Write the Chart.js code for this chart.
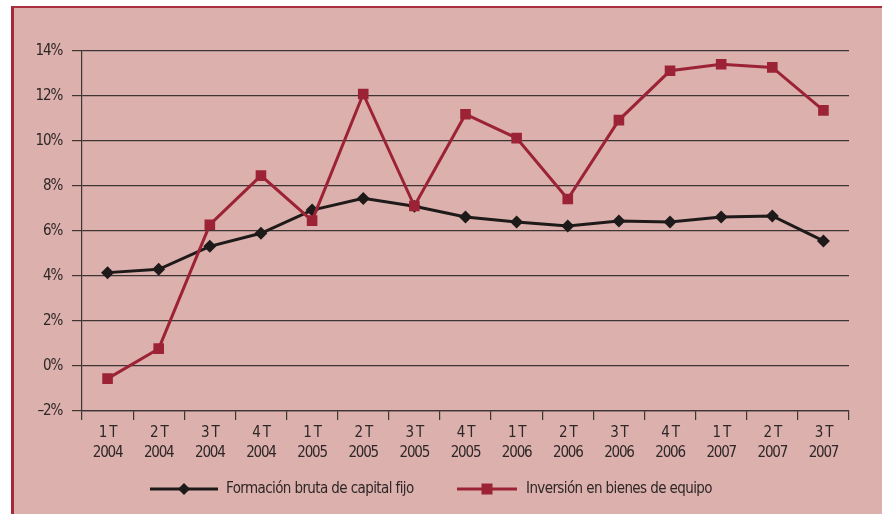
<!DOCTYPE html>
<html>
<head>
<meta charset="utf-8">
<script src="https://cdn.jsdelivr.net/npm/chart.js@4/dist/chart.umd.min.js"></script>
<style>
  html, body { margin: 0; padding: 0; background: #ffffff; width: 882px; height: 514px; overflow: hidden; }
  #box { position: absolute; left: 11px; top: 6px; width: 900px; height: 540px;
         background: #dcb0ac; border-left: 3px solid #a2283a; border-top: 2px solid #a8303f; }
  #c { position: absolute; left: 0; top: 0; }
</style>
</head>
<body>
<div id="box"></div>
<canvas id="c" width="882" height="514"></canvas>
<script>
const quarters = ["1 T","2 T","3 T","4 T","1 T","2 T","3 T","4 T","1 T","2 T","3 T","4 T","1 T","2 T","3 T"];
const years = ["2004","2004","2004","2004","2005","2005","2005","2005","2006","2006","2006","2006","2007","2007","2007"];
const categories = quarters.map((q, i) => [q, years[i]]);

const seriesNames = ["Formación bruta de capital fijo", "Inversión en bienes de equipo"];
const formacionBruta = [4.15, 4.3, 5.32, 5.9, 6.93, 7.45, 7.1, 6.62, 6.4, 6.22, 6.44, 6.4, 6.62, 6.67, 5.56];
const inversionEquipo = [-0.56, 0.77, 6.28, 8.46, 6.46, 12.09, 7.11, 11.19, 10.13, 7.42, 10.93, 13.12, 13.41, 13.27, 11.36];

const yTicksMin = -2, yTicksMax = 14, yStep = 2;

const FONT = "'Liberation Sans Narrow', 'DejaVu Sans Condensed', sans-serif";
const TEXT = '#2e2727';
const BLACK = '#1e1a1a';
const RED = '#9c2336';
const GRID = '#3d3434';
const TICK_SPACING = '-1.2px';

Chart.defaults.font.family = FONT;
Chart.defaults.font.size = 15;
Chart.defaults.color = TEXT;

const spacingPlugin = {
  id: 'spacing',
  beforeLayout(chart) { chart.ctx.letterSpacing = TICK_SPACING; },
  beforeDraw(chart) { chart.ctx.letterSpacing = TICK_SPACING; }
};

const legendPlugin = {
  id: 'customLegend',
  afterDraw(chart) {
    const ctx = chart.ctx;
    const y = 489;
    const items = [
      { x0: 150, x1: 218, tx: 226, color: BLACK, shape: 'diamond', label: chart.data.datasets[0].label },
      { x0: 457, x1: 517, tx: 526, color: RED, shape: 'square', label: chart.data.datasets[1].label }
    ];
    ctx.save();
    items.forEach(it => {
      ctx.strokeStyle = it.color;
      ctx.lineWidth = 3;
      ctx.beginPath();
      ctx.moveTo(it.x0, y);
      ctx.lineTo(it.x1, y);
      ctx.stroke();
      const cx = (it.x0 + it.x1) / 2;
      ctx.fillStyle = it.color;
      ctx.beginPath();
      if (it.shape === 'diamond') {
        const r = 6;
        ctx.moveTo(cx - r, y); ctx.lineTo(cx, y - r); ctx.lineTo(cx + r, y); ctx.lineTo(cx, y + r);
        ctx.closePath();
      } else {
        const s = 5.5;
        ctx.rect(cx - s, y - s, 2 * s, 2 * s);
      }
      ctx.fill();
      ctx.fillStyle = TEXT;
      ctx.letterSpacing = '-0.6px';
      ctx.font = "15px " + FONT;
      ctx.textBaseline = 'middle';
      ctx.textAlign = 'left';
      ctx.fillText(it.label, it.tx, y);
    });
    ctx.restore();
  }
};

new Chart(document.getElementById('c'), {
  type: 'line',
  data: {
    labels: categories,
    datasets: [
      {
        label: seriesNames[0],
        data: formacionBruta,
        borderColor: BLACK,
        backgroundColor: BLACK,
        borderWidth: 3,
        pointStyle: 'rectRot',
        pointRadius: 6.5,
        pointHoverRadius: 6.5,
        pointBorderWidth: 0,
        tension: 0,
        order: 2
      },
      {
        label: seriesNames[1],
        data: inversionEquipo,
        borderColor: RED,
        backgroundColor: RED,
        borderWidth: 3,
        pointStyle: 'rect',
        pointRadius: 7.5,
        pointHoverRadius: 7.5,
        pointBorderWidth: 0,
        tension: 0,
        order: 1
      }
    ]
  },
  options: {
    responsive: false,
    animation: false,
    layout: { padding: { left: 0, right: 33, top: 51, bottom: 0 } },
    plugins: { legend: { display: false }, tooltip: { enabled: false } },
    scales: {
      x: {
        offset: true,
        grid: { display: true, drawOnChartArea: false, drawTicks: true, tickLength: 9, offset: true, color: GRID, lineWidth: 1.2 },
        border: { display: true, color: GRID, width: 1.2 },
        ticks: { padding: 3, maxRotation: 0, autoSkip: false, color: TEXT, font: { size: 15, lineHeight: 1.35 } },
        afterFit(scale) { scale.height = 103; }
      },
      y: {
        min: yTicksMin,
        max: yTicksMax,
        grid: { color: GRID, lineWidth: 1.2, drawTicks: true, tickLength: 10 },
        border: { display: true, color: GRID, width: 1.2 },
        ticks: {
          stepSize: yStep,
          padding: 10,
          color: TEXT,
          font: { size: 15 },
          callback: v => (v < 0 ? '\u2013' + Math.abs(v) : v) + '%'
        },
        afterFit(scale) { scale.width = 82; }
      }
    }
  },
  plugins: [spacingPlugin, legendPlugin]
});
</script>
</body>
</html>
